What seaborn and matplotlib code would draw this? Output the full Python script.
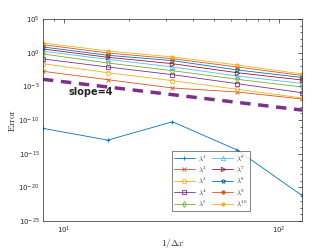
import numpy as np
import pandas as pd
import matplotlib
matplotlib.use("Agg")
import matplotlib.pyplot as plt
import seaborn as sns
from matplotlib.ticker import LogLocator, NullFormatter

sns.set_style("white")
plt.rcParams['font.family'] = ['DejaVu Sans']
plt.rcParams['mathtext.fontset'] = 'cm'

inv_dx = [8, 16, 32, 64, 128]
log_err = {
    1: [-11.24, -12.98, -10.26, -14.46, -21.2],
    2: [-2.77, -4.02, -5.25, -5.84, -6.88],
    3: [-1.64, -2.98, -4.16, -5.44, -6.73],
    4: [-0.94, -2.13, -3.27, -4.61, -5.95],
    5: [-0.20, -1.54, -2.68, -3.96, -5.10],
    6: [0.20, -0.99, -2.13, -3.47, -4.58],
    7: [0.54, -0.69, -1.64, -2.98, -4.06],
    8: [0.84, -0.39, -1.19, -2.57, -3.69],
    9: [1.18, -0.05, -0.90, -2.13, -3.39],
    10: [1.43, 0.25, -0.64, -1.83, -3.17],
}
slope_x = [8, 128]
slope_y = [1.1e-4, 3.0e-9]

colors = {
    1: (0.0, 0.447, 0.741), 2: (0.85, 0.325, 0.098), 3: (0.929, 0.694, 0.125),
    4: (0.494, 0.184, 0.556), 5: (0.466, 0.674, 0.188), 6: (0.301, 0.745, 0.933),
    7: (0.635, 0.078, 0.184), 8: (0.0, 0.447, 0.741), 9: (0.85, 0.325, 0.098),
    10: (0.929, 0.694, 0.125),
}
markers = {1: '+', 2: 'x', 3: 'o', 4: 's', 5: 'd', 6: '^', 7: '>', 8: '*', 9: 'o', 10: 'o'}
filled = {9: True, 10: True}
msize = {1: 3.5, 2: 2.8, 3: 3.2, 4: 2.8, 5: 3, 6: 3.2, 7: 3.2, 8: 3.6, 9: 2.4, 10: 2.4}

fig = plt.figure(figsize=(3.33, 2.49), dpi=100)
ax = fig.add_axes([0.129, 0.112, 0.778, 0.812])

for k in range(1, 11):
    df = pd.DataFrame({'x': inv_dx, 'y': 10.0 ** np.array(log_err[k])})
    c = colors[k]
    sns.lineplot(data=df, x='x', y='y', ax=ax, color=c, linewidth=0.6,
                 marker=markers[k], markersize=msize[k],
                 markerfacecolor=c if filled.get(k) else 'none',
                 markeredgecolor=c, markeredgewidth=0.6,
                 label=r'$\lambda^{%d}$' % k)

sns.lineplot(x=slope_x, y=slope_y, ax=ax, color=(0.494, 0.184, 0.556),
             linewidth=2.5, linestyle=(0, (3, 2.2)), legend=False)

ax.set_xscale('log')
ax.set_yscale('log')
ax.set_xlim(8, 128)
ax.set_ylim(1e-25, 1e5)
ax.set_yticks([10.0 ** p for p in range(-25, 6, 5)])
ax.yaxis.set_minor_locator(LogLocator(base=10, subs=(1.0,), numticks=40))
ax.yaxis.set_minor_formatter(NullFormatter())
ax.xaxis.set_minor_locator(LogLocator(base=10, subs=np.arange(2, 10), numticks=20))
ax.xaxis.set_minor_formatter(NullFormatter())
ax.tick_params(which='both', direction='in', top=True, right=True,
               labelsize=5, colors='#262626', width=0.5)
ax.tick_params(which='major', length=3, pad=2.5)
ax.tick_params(which='minor', length=1.6)
for s in ax.spines.values():
    s.set_linewidth(0.5)
    s.set_color('#262626')

ax.text(13.4, 10 ** -5.77, 'slope=4', fontsize=7, fontweight='bold',
        ha='center', va='center')

ax.set_xlabel(r'$1/\Delta x$', fontsize=6.5, labelpad=0.5)
ax.set_ylabel(r'$\mathrm{Error}$', fontsize=6.5, labelpad=1)

leg = ax.legend(ncol=2, loc='lower left', bbox_to_anchor=(0.483, 0.035),
                fontsize=5, handlelength=3.0, columnspacing=0.8,
                handletextpad=0.4, labelspacing=0.3, borderpad=0.35,
                frameon=True, fancybox=False)
leg.get_frame().set_edgecolor('#262626')
leg.get_frame().set_linewidth(0.5)

fig.savefig('out.png', dpi=100)
